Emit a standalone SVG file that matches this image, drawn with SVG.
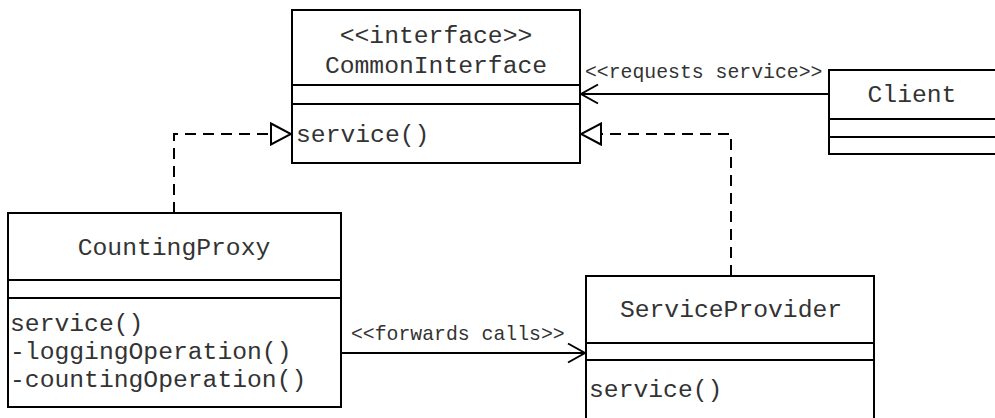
<svg xmlns="http://www.w3.org/2000/svg" width="995" height="418" viewBox="0 0 995 418">
<style>
.box{fill:#fff;stroke:#000;stroke-width:2}
.div{stroke:#000;stroke-width:2}
.t{font-family:"Liberation Mono","Courier New",monospace;font-size:24.7px;fill:#333}
.c{text-anchor:middle}
.lbl{font-family:"Liberation Mono","Courier New",monospace;font-size:19.8px;fill:#333}
.ln{fill:none;stroke:#000;stroke-width:2}
.dash{fill:none;stroke:#000;stroke-width:2;stroke-dasharray:11,7}
</style>
<defs>
<marker id="open" markerWidth="20" markerHeight="22" refX="18" refY="11" orient="auto" markerUnits="userSpaceOnUse">
<path d="M1,1.5 L18,11 L1,20.5" fill="none" stroke="#000" stroke-width="2"/>
</marker>
<marker id="tri" markerWidth="24" markerHeight="24" refX="22" refY="12" orient="auto" markerUnits="userSpaceOnUse">
<path d="M2,1.5 L22,12 L2,22.5 Z" fill="#fff" stroke="#000" stroke-width="2"/>
</marker>
</defs>
<g id="connectors">
<path class="ln" d="M829,94 H581" marker-end="url(#open)"/>
<text class="lbl" x="585" y="78">&lt;&lt;requests service&gt;&gt;</text>
<path class="dash" d="M731,276 V134 H581" marker-end="url(#tri)"/>
<path class="dash" d="M174,213 V134 H291" marker-end="url(#tri)"/>
<path class="ln" d="M341,353 H585" marker-end="url(#open)"/>
<text class="lbl" x="351" y="340">&lt;&lt;forwards calls&gt;&gt;</text>
</g>
<g id="CommonInterface">
<rect class="box" x="292" y="10" width="288" height="153"/>
<line class="div" x1="292" y1="85" x2="580" y2="85"/>
<line class="div" x1="292" y1="104" x2="580" y2="104"/>
<text class="t c" x="436" y="43">&lt;&lt;interface&gt;&gt;</text>
<text class="t c" x="436" y="73">CommonInterface</text>
<text class="t" x="296" y="142">service()</text>
</g>
<g id="Client">
<rect class="box" x="829" y="70" width="168" height="84"/>
<line class="div" x1="829" y1="119" x2="997" y2="119"/>
<line class="div" x1="829" y1="137" x2="997" y2="137"/>
<text class="t c" x="912" y="102">Client</text>
</g>
<g id="CountingProxy">
<rect class="box" x="8" y="213" width="333" height="194"/>
<line class="div" x1="8" y1="280" x2="341" y2="280"/>
<line class="div" x1="8" y1="298" x2="341" y2="298"/>
<text class="t c" x="174" y="255">CountingProxy</text>
<text class="t" x="10" y="331">service()</text>
<text class="t" x="10" y="359">-loggingOperation()</text>
<text class="t" x="10" y="387">-countingOperation()</text>
</g>
<g id="ServiceProvider">
<rect class="box" x="586" y="276" width="288" height="150"/>
<line class="div" x1="586" y1="343" x2="874" y2="343"/>
<line class="div" x1="586" y1="360" x2="874" y2="360"/>
<text class="t c" x="731" y="317">ServiceProvider</text>
<text class="t" x="589" y="397">service()</text>
</g>
</svg>
